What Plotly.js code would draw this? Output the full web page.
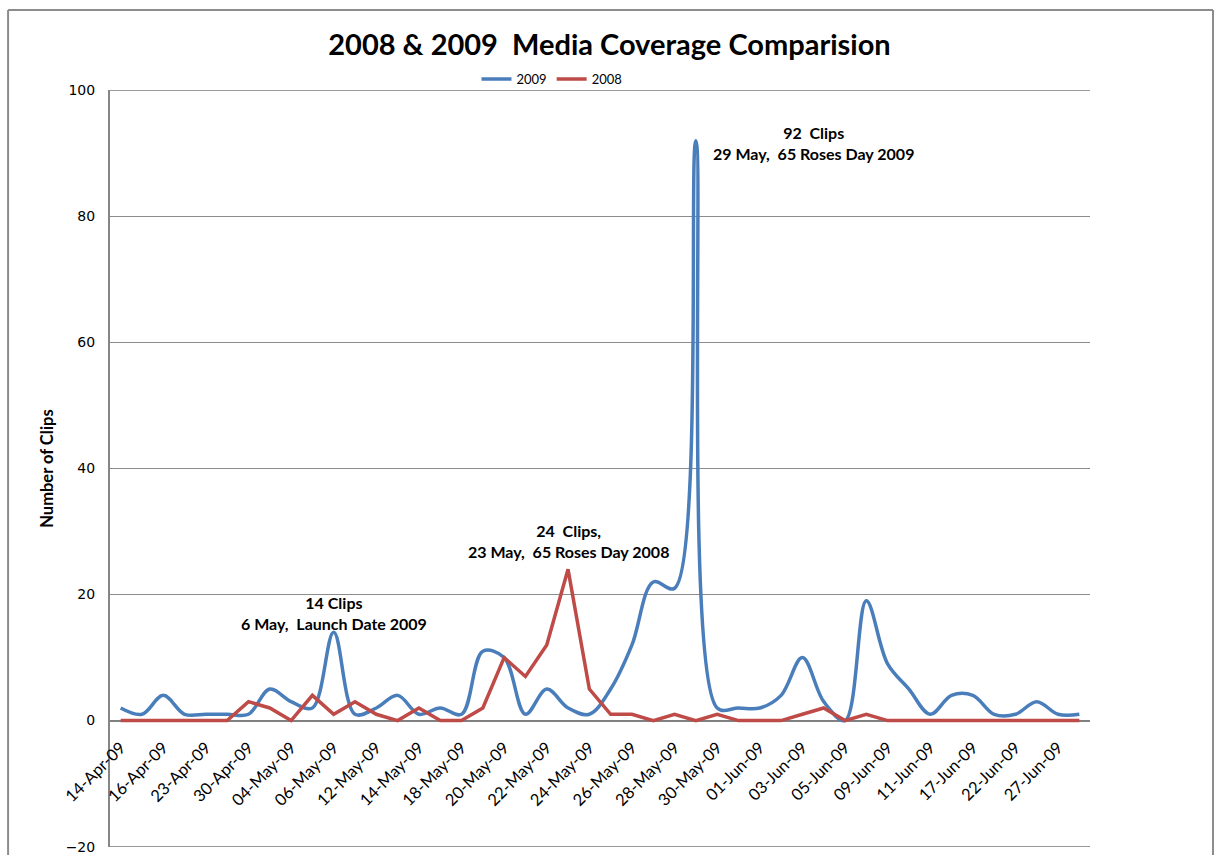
<!DOCTYPE html>
<html>
<head>
<meta charset="utf-8">
<script src="https://cdn.plot.ly/plotly-3.0.1.min.js"></script>
<style>html,body{margin:0;padding:0;background:#fff;}#chart{width:1219px;height:855px;}</style>
</head>
<body>
<div id="chart"></div>
<script>
// Categories (dates); only every second one is labelled on the axis
const dates = [
  "14-Apr-09","15-Apr-09","16-Apr-09","20-Apr-09","23-Apr-09","28-Apr-09","30-Apr-09","01-May-09",
  "04-May-09","05-May-09","06-May-09","11-May-09","12-May-09","13-May-09","14-May-09","15-May-09",
  "18-May-09","19-May-09","20-May-09","21-May-09","22-May-09","23-May-09","24-May-09","25-May-09",
  "26-May-09","27-May-09","28-May-09","29-May-09","30-May-09","31-May-09","01-Jun-09","02-Jun-09",
  "03-Jun-09","04-Jun-09","05-Jun-09","08-Jun-09","09-Jun-09","10-Jun-09","11-Jun-09","15-Jun-09",
  "17-Jun-09","19-Jun-09","22-Jun-09","24-Jun-09","27-Jun-09","30-Jun-09"
];
const tickLabels = dates.filter((d, i) => i % 2 === 0);

const clips2009 = [2,1,4,1,1,1,1,5,3,2,14,1,2,4,1,2,1,11,10,1,5,2,1,5,12,22,21,92,2,2,2,4,10,3,0,19,9,5,1,4,4,1,1,3,1,1];
const clips2008 = [0,0,0,0,0,0,3,2,0,4,1,3,1,0,2,0,0,2,10,7,12,24,5,1,1,0,1,0,1,0,0,0,1,2,0,1,0,0,0,0,0,0,0,0,0,0];

const yMin = -20, yMax = 100;

const notes = [
  {text: "14 Clips<br>6 May,  Launch Date 2009", cat: 10, val: 17.1},
  {text: "24  Clips,<br>23 May,  65 Roses Day 2008", cat: 21, val: 28.5},
  {text: "92  Clips<br>29 May,  65 Roses Day 2009", cat: 32.5, val: 91.6}
];

const FONT = "Lato, 'Open Sans', sans-serif";

const traces = [
  {x: dates, y: clips2009, name: "2009", type: "scatter", mode: "lines",
   line: {color: "#4A7EBB", width: 3.5, shape: "spline", smoothing: 1}},
  {x: dates, y: clips2008, name: "2008", type: "scatter", mode: "lines",
   line: {color: "#BE4B48", width: 3.5}}
];

const GRID = "#8c8c8c";

const layout = {
  width: 1219, height: 855,
  margin: {l: 110, r: 129, t: 90, b: 8},
  paper_bgcolor: "#ffffff", plot_bgcolor: "#ffffff",
  font: {family: FONT, color: "#000"},
  title: {text: "<b>2008 & 2009  Media Coverage Comparision</b>", font: {family: FONT, size: 29, color: "#000"},
          x: 0.5, xref: "container", xanchor: "center", y: 1 - 45/855, yref: "container", yanchor: "middle"},
  showlegend: true,
  legend: {orientation: "h", x: 0.451, xanchor: "center", y: 1.0145, yanchor: "middle",
           font: {family: FONT, size: 13, color: "#000"}, bgcolor: "rgba(0,0,0,0)", tracegroupgap: 0},
  xaxis: {type: "category", range: [-0.5, 45.5], anchor: "free", position: 1/6 - 13/757,
          tickmode: "array", tickvals: tickLabels, ticktext: tickLabels, tickangle: -45,
          tickfont: {family: FONT, size: 16.5, color: "#000"},
          ticks: "", showgrid: false, zeroline: false, showline: false,
          fixedrange: true},
  yaxis: {range: [yMin - 0.06, yMax + 0.06], dtick: 20, tick0: 0,
          tickfont: {family: "'DejaVu Sans', sans-serif", size: 14, color: "#000"},
          showgrid: true, gridcolor: GRID, gridwidth: 1,
          zeroline: true, zerolinecolor: "#808080", zerolinewidth: 2,
          showline: true, linecolor: "#868686", linewidth: 2,
          ticks: "outside", ticklen: 10, tickcolor: "rgba(0,0,0,0)", ticklabeloverflow: "allow",
          title: {text: "<b>Number of Clips</b>", font: {family: FONT, size: 16.5, color: "#000"}, standoff: 8}},
  annotations: notes.map(n => ({
    text: "<b>" + n.text + "</b>", x: n.cat, y: n.val, xref: "x", yref: "y",
    showarrow: false, align: "center", font: {family: FONT, size: 16, color: "#000"}
  })),
  shapes: [
    {type: "line", xref: "paper", yref: "y", x0: 0, x1: 1, y0: yMax, y1: yMax, line: {color: GRID, width: 1}, layer: "below"},
    {type: "line", xref: "paper", yref: "y", x0: 0, x1: 1, y0: yMin, y1: yMin, line: {color: GRID, width: 1}, layer: "below"},
    {type: "line", xref: "paper", yref: "paper", x0: -0.104, x1: 1.1255, y0: 1.1057, y1: 1.1057, line: {color: "#8c8c8c", width: 2}},
    {type: "line", xref: "paper", yref: "paper", x0: -0.104, x1: -0.104, y0: 1.1057, y1: -0.05, line: {color: "#8c8c8c", width: 2}},
    {type: "line", xref: "paper", yref: "paper", x0: 1.1255, x1: 1.1255, y0: 1.1057, y1: -0.05, line: {color: "#8c8c8c", width: 2}}
  ]
};

Plotly.newPlot("chart", traces, layout, {displayModeBar: false, staticPlot: true});
</script>
</body>
</html>
